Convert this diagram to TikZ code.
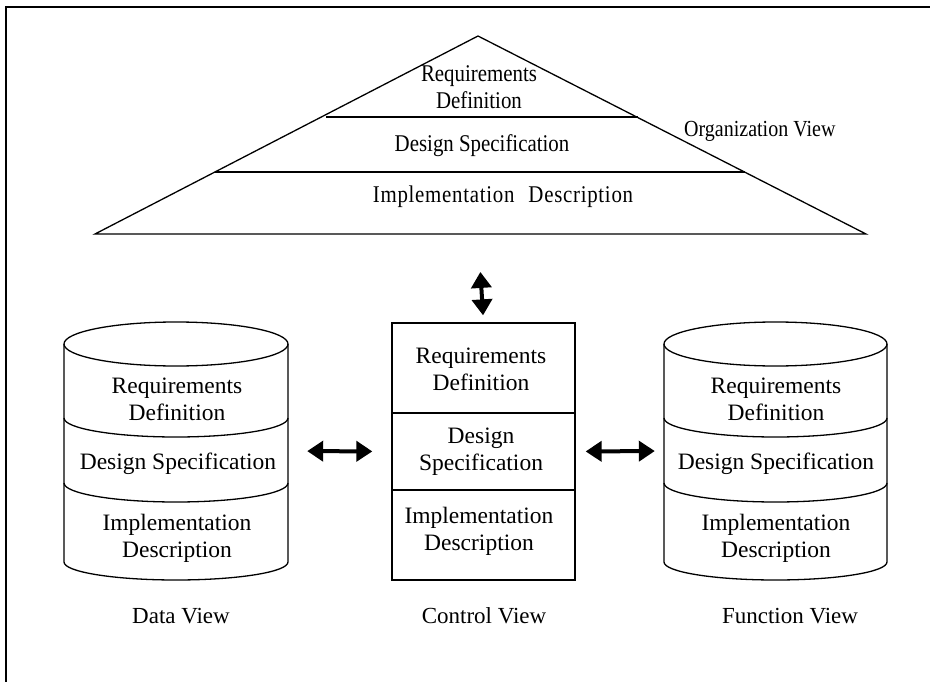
\documentclass[tikz,border=0pt]{standalone}
\usepackage{fontspec}
\setmainfont{Liberation Serif}
\newfontfamily\narrowserif[FakeStretch=0.87]{Liberation Serif}
\usetikzlibrary{arrows.meta}

\tikzset{
  frame/.style={line width=2.4pt},
  outline/.style={line width=1.3pt},
  lbl/.style={align=center, inner sep=0pt, font=\fontsize{23.5}{27}\selectfont},
  vlbl/.style={inner sep=0pt, font=\fontsize{23}{27}\selectfont},
  plbl/.style={align=center, inner sep=0pt, font=\narrowserif\fontsize{24}{27}\selectfont},
  body/.style={inner sep=0pt, minimum width=224pt, minimum height=258pt},
  biarrow/.style={line width=4pt, {Triangle[length=16pt,width=20pt]}-{Triangle[length=16pt,width=20pt]}}
}

% layered cylinder: #1 = left x, #2 = right x
\newcommand{\layeredcyl}[2]{%
  \pgfmathsetmacro{\cx}{(#1+#2)/2}
  \pgfmathsetmacro{\rx}{(#2-#1)/2}
  \draw[outline] (\cx,344) ellipse [x radius=\rx, y radius=22];
  \draw[outline] (#1,344) -- (#1,562) arc[start angle=180, end angle=0, x radius=\rx, y radius=18] -- (#2,344);
  \draw[outline] (#1,418) arc[start angle=180, end angle=0, x radius=\rx, y radius=19];
  \draw[outline] (#1,483) arc[start angle=180, end angle=0, x radius=\rx, y radius=19];
}

\begin{document}
\begin{tikzpicture}[x=1pt, y=-1pt]
\useasboundingbox (0,0) rectangle (930,682);

% outer frame (top and left edges)
\draw[frame] (930,7) -- (6,7) -- (6,682);

% organization view: layered triangle
\draw[outline] (95,234) -- (478,36) -- (866,234) -- cycle;
\draw[outline] (326,117) -- (638,117);
\draw[outline] (215,172) -- (745,172);
\coordinate (orgbase) at (478,234);
\node[plbl] (oreq) at (479,87) {Requirements\\Definition};
\node[plbl] (odes) at (482,146) {Design Specification};
\node[plbl] (oimp) at (503,197) {\addfontfeature{LetterSpace=3}Implementation\hspace{14pt}Description};
\node[plbl, anchor=west, font=\narrowserif\fontsize{23}{27}\selectfont] (orgv) at (684,131) {Organization View};

% data view
\layeredcyl{64}{288}
\node[body] (data) at (176,451) {};
\node[lbl] (dreq) at (177,399) {Requirements\\Definition};
\node[lbl] (ddes) at (178,464) {Design Specification};
\node[lbl] (dimp) at (177,538) {Implementation\\Description};
\node[vlbl] (datav) at (181,616) {Data View};

% control view
\node[draw, outline, inner sep=0pt, minimum width=183pt, minimum height=257pt] (ctrl) at (483.5,451.5) {};
\draw[outline] (392,413) -- (575,413);
\draw[outline] (392,490) -- (575,490);
\node[lbl] (creq) at (481,369) {Requirements\\Definition};
\node[lbl] (cdes) at (481,452) {Design\\Specification};
\node[lbl] (cimp) at (479,531) {Implementation\\Description};
\node[vlbl] (ctrlv) at (484,616) {Control View};

% function view
\layeredcyl{664}{887}
\node[body, minimum width=223pt] (func) at (775.5,451) {};
\node[lbl] (freq) at (776,399) {Requirements\\Definition};
\node[lbl] (fdes) at (776,464) {Design Specification};
\node[lbl] (fimp) at (776,538) {Implementation\\Description};
\node[vlbl] (funcv) at (790,616) {Function View};

% links between the views
\draw[biarrow, shorten <=38pt, shorten >=7pt] (orgbase) -- (ctrl.north);
\draw[biarrow, shorten <=19pt, shorten >=19pt] (data.east) -- (ctrl.west);
\draw[biarrow, shorten <=10pt, shorten >=9pt] (ctrl.east) -- (func.west);
\end{tikzpicture}
\end{document}
